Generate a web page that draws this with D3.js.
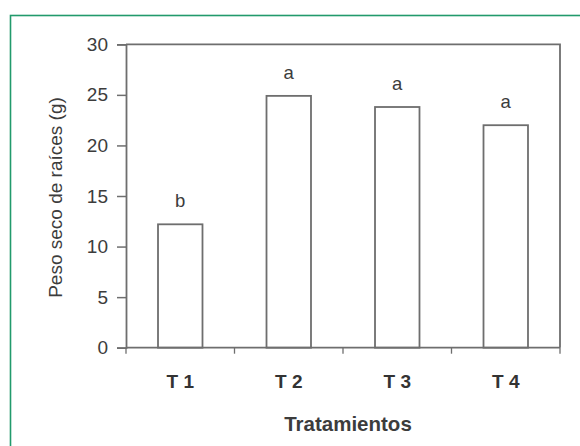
<!DOCTYPE html>
<html>
<head>
<meta charset="utf-8">
<script src="https://cdn.jsdelivr.net/npm/d3@7"></script>
<style>
  html, body { margin: 0; padding: 0; background: #fff; }
  svg { display: block; font-family: "Liberation Sans", Arial, sans-serif; }
</style>
</head>
<body>
<svg id="chart" width="580" height="446"></svg>
<script>
// Dry root weight per treatment, with significance letters
const treatments = ["T 1", "T 2", "T 3", "T 4"];
const rootWeight = [12.2, 24.9, 23.8, 22.0];
const groupLetters = ["b", "a", "a", "a"];
const yTicks = [0, 5, 10, 15, 20, 25, 30];
const yTitle = "Peso seco de raíces (g)";
const xTitle = "Tratamientos";

const svg = d3.select("#chart");
const ink = "#3c3c3c";
const lineCol = "#6e6e6e";

// outer green frame
svg.append("rect")
  .attr("x", 10.5).attr("y", 15.5)
  .attr("width", 600).attr("height", 460)
  .attr("fill", "none")
  .attr("stroke", "#229a6c")
  .attr("stroke-width", 1.6);

const plot = { left: 126, right: 560, top: 44.3, bottom: 347.7 };

const x = d3.scaleBand()
  .domain(treatments)
  .range([plot.left, plot.right])
  .paddingInner(0.59)
  .paddingOuter(0.295);

const xOuter = d3.scaleBand()
  .domain(treatments)
  .range([plot.left, plot.right]);

const y = d3.scaleLinear()
  .domain([0, 30])
  .range([plot.bottom, plot.top]);

// plot box (top and right edges)
svg.append("path")
  .attr("d", `M${plot.left},${plot.top}H${plot.right}V${plot.bottom}`)
  .attr("fill", "none")
  .attr("stroke", lineCol)
  .attr("stroke-width", 1.8);

// bars
svg.append("g")
  .selectAll("rect")
  .data(treatments)
  .join("rect")
  .attr("x", d => x(d))
  .attr("y", (d, i) => y(rootWeight[i]))
  .attr("width", x.bandwidth())
  .attr("height", (d, i) => y(0) - y(rootWeight[i]))
  .attr("fill", "#fff")
  .attr("stroke", lineCol)
  .attr("stroke-width", 1.8);

// significance letters
svg.append("g")
  .selectAll("text")
  .data(treatments)
  .join("text")
  .attr("x", d => x(d) + x.bandwidth() / 2)
  .attr("y", (d, i) => y(rootWeight[i]) - 17)
  .attr("text-anchor", "middle")
  .attr("font-size", 18.5)
  .attr("fill", ink)
  .text((d, i) => groupLetters[i]);

// y axis
const yAxis = svg.append("g")
  .attr("transform", `translate(${plot.left},0)`)
  .call(d3.axisLeft(y).tickValues(yTicks).tickSize(9).tickPadding(9).tickFormat(d3.format("d")));
yAxis.select(".domain").attr("stroke", lineCol).attr("stroke-width", 1.8);
yAxis.selectAll(".tick line").attr("stroke", lineCol).attr("stroke-width", 1.5);
yAxis.selectAll(".tick text")
  .attr("font-size", 19)
  .attr("font-family", "Liberation Sans, Arial, sans-serif")
  .attr("fill", ink);

// x axis: ticks sit between categories
const xAxisG = svg.append("g")
  .attr("transform", `translate(0,${plot.bottom})`);
xAxisG.append("path")
  .attr("d", `M${plot.left},0H${plot.right}`)
  .attr("stroke", lineCol)
  .attr("stroke-width", 1.8);
const boundaries = treatments.map(d => xOuter(d)).concat([xOuter.range()[1]]);
xAxisG.selectAll("line.sep")
  .data(boundaries)
  .join("line")
  .attr("class", "sep")
  .attr("x1", d => d).attr("x2", d => d)
  .attr("y1", 0).attr("y2", 6)
  .attr("stroke", lineCol)
  .attr("stroke-width", 1.3);
xAxisG.selectAll("text")
  .data(treatments)
  .join("text")
  .attr("x", d => x(d) + x.bandwidth() / 2)
  .attr("y", 40.5)
  .attr("text-anchor", "middle")
  .attr("font-size", 19)
  .attr("font-weight", "bold")
  .attr("fill", "#333")
  .text(d => d);

// axis titles
svg.append("text")
  .attr("x", 348)
  .attr("y", 431)
  .attr("text-anchor", "middle")
  .attr("font-size", 20.5)
  .attr("font-weight", "bold")
  .attr("fill", ink)
  .text(xTitle);

svg.append("text")
  .attr("transform", "translate(62,197.5) rotate(-90)")
  .attr("text-anchor", "middle")
  .attr("font-size", 19)
  .attr("fill", ink)
  .text(yTitle);
</script>
</body>
</html>
